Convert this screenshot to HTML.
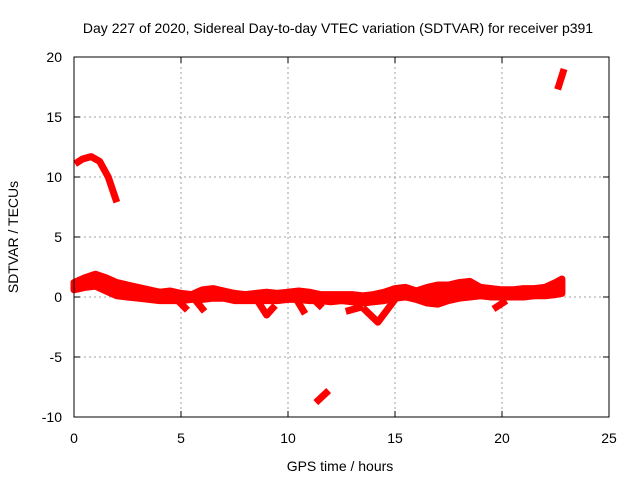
<!DOCTYPE html>
<html><head><meta charset="utf-8"><style>
body{margin:0;background:#fff;}
svg{display:block;font-family:"Liberation Sans",sans-serif;}
</style></head><body>
<svg id="chart" width="640" height="480">
<text x="338" y="33" font-size="14" text-anchor="middle">Day 227 of 2020, Sidereal Day-to-day VTEC variation (SDTVAR) for receiver p391</text>
<g id="grid"></g>
<g id="marks"></g>
<rect x="74" y="57" width="535" height="360" fill="none" stroke="#000" stroke-width="1"/>
<g id="axes"></g>
<text x="340" y="471" font-size="14" text-anchor="middle">GPS time / hours</text>
<text transform="translate(18,237) rotate(-90)" font-size="14" text-anchor="middle">SDTVAR / TECUs</text>
</svg>
<script>
const xTicks=[0,5,10,15,20,25];
const yTicks=[-10,-5,0,5,10,15,20];
const bandHours=[0,0.5,1,1.5,2,2.5,3,3.5,4,4.5,5,5.5,6,6.5,7,7.5,8,8.5,9,9.5,10,10.5,11,11.5,12,12.5,13,13.5,14,14.5,15,15.5,16,16.5,17,17.5,18,18.5,19,19.5,20,20.5,21,21.5,22,22.5,22.8];
const bandUpper=[1.2,1.6,1.9,1.6,1.2,1.0,0.8,0.6,0.4,0.5,0.3,0.2,0.6,0.7,0.5,0.3,0.2,0.3,0.4,0.3,0.4,0.5,0.4,0.2,0.2,0.2,0.2,0.1,0.2,0.4,0.7,0.8,0.5,0.8,1.0,1.0,1.2,1.3,0.8,0.7,0.6,0.6,0.7,0.7,0.8,1.2,1.5];
const bandLower=[0.6,0.8,0.9,0.5,0.1,0.0,-0.1,-0.2,-0.3,-0.3,-0.3,-0.2,-0.2,-0.1,-0.1,-0.3,-0.3,-0.3,-0.3,-0.3,-0.2,-0.2,-0.3,-0.3,-0.4,-0.3,-0.4,-0.5,-0.4,-0.3,-0.1,0.0,-0.2,-0.5,-0.6,-0.3,-0.1,0.0,0.1,0.0,0.0,0.0,0.0,0.1,0.1,0.2,0.3];
const tracks=[
 [[0.05,11.1],[0.4,11.5],[0.8,11.7],[1.2,11.3],[1.6,10.0],[2.0,7.9]],
 [[11.3,-8.8],[11.9,-7.8]],
 [[22.6,17.3],[22.9,19.0]],
 [[4.8,-0.2],[5.3,-1.1]],
 [[5.6,-0.1],[6.1,-1.2]],
 [[8.5,-0.1],[9.0,-1.5],[9.4,-0.7]],
 [[10.4,-0.2],[10.8,-1.4]],
 [[11.2,-0.2],[11.6,-0.9]],
 [[12.7,-1.2],[13.5,-0.8]],
 [[13.5,-0.9],[14.2,-2.1],[15.0,-0.2]],
 [[19.6,-1.0],[20.2,-0.3]]
];
const X=h=>74+h*535/25, Y=v=>297-v*12;
const NS='http://www.w3.org/2000/svg';
function mk(t,a,p){const e=document.createElementNS(NS,t);for(const k in a)e.setAttribute(k,a[k]);p.appendChild(e);return e;}
const grid=document.getElementById('grid'),axes=document.getElementById('axes'),marks=document.getElementById('marks');
xTicks.forEach(t=>{
 if(t>0&&t<25){const g=mk('line',{x1:X(t),x2:X(t),y1:57,y2:417,stroke:'#a0a0a0','stroke-dasharray':'2,3'},grid);
 
 }
 mk('line',{x1:X(t),x2:X(t),y1:417,y2:411,stroke:'#000'},axes);
 mk('line',{x1:X(t),x2:X(t),y1:57,y2:63,stroke:'#000'},axes);
 const l=mk('text',{x:X(t),y:443,'font-size':14,'text-anchor':'middle'},axes);l.textContent=t;
 
 
});
yTicks.forEach(t=>{
 if(t>-10&&t<20){const g=mk('line',{x1:74,x2:609,y1:Y(t),y2:Y(t),stroke:'#a0a0a0','stroke-dasharray':'2,3'},grid);
 
 }
 mk('line',{x1:74,x2:80,y1:Y(t),y2:Y(t),stroke:'#000'},axes);
 mk('line',{x1:603,x2:609,y1:Y(t),y2:Y(t),stroke:'#000'},axes);
 const l=mk('text',{x:62,y:Y(t)+5,'font-size':14,'text-anchor':'end'},axes);l.textContent=t;
 
 
});
let pts=bandHours.map((h,i)=>X(h)+','+Y(bandUpper[i]));
for(let i=bandHours.length-1;i>=0;i--)pts.push(X(bandHours[i])+','+Y(bandLower[i]));
const band=mk('polygon',{points:pts.join(' '),fill:'#ff0000',stroke:'#ff0000','stroke-width':7,'stroke-linejoin':'round'},marks);


tracks.forEach(tr=>{
 const p=mk('polyline',{points:tr.map(q=>X(q[0])+','+Y(q[1])).join(' '),fill:'none',stroke:'#ff0000','stroke-width':7,'stroke-linejoin':'round'},marks);
 
 
});
</script>
</body></html>
